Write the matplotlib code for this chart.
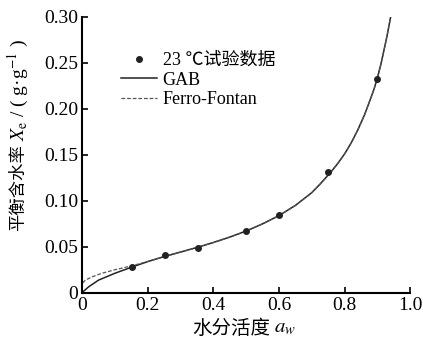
import matplotlib
matplotlib.use("Agg")
import matplotlib.pyplot as plt

plt.rcParams['font.family'] = ['Liberation Serif', 'Noto Sans CJK SC', 'DejaVu Sans']
plt.rcParams['mathtext.fontset'] = 'stix'

# measured points (23 C)
aw_exp = [0.153, 0.252, 0.352, 0.500, 0.600, 0.750, 0.899]
x_exp = [0.028, 0.041, 0.049, 0.0675, 0.084, 0.131, 0.233]

# GAB fit curve
aw_gab = [0.0, 0.02, 0.05, 0.10, 0.15, 0.20, 0.25, 0.30, 0.35, 0.40, 0.45,
          0.50, 0.55, 0.60, 0.65, 0.70, 0.725, 0.75, 0.76, 0.78, 0.80, 0.82,
          0.84, 0.86, 0.88, 0.89, 0.90, 0.91, 0.92, 0.93, 0.94, 0.95]
x_gab = [0.0, 0.0062, 0.0135, 0.021, 0.0275, 0.0337, 0.0392, 0.0441, 0.0491,
         0.0545, 0.0604, 0.0670, 0.0748, 0.0838, 0.0949, 0.1088, 0.1180, 0.1280,
         0.1320, 0.1410, 0.1510, 0.1630, 0.1770, 0.1930, 0.2120, 0.2220, 0.2340,
         0.2480, 0.2640, 0.2810, 0.3000, 0.3200]

# Ferro-Fontan fit curve
aw_ff = [0.002, 0.01, 0.03, 0.06, 0.10, 0.15, 0.20, 0.25, 0.30, 0.35, 0.40,
         0.45, 0.50, 0.55, 0.60, 0.65, 0.70, 0.725, 0.75, 0.76, 0.78, 0.80,
         0.82, 0.84, 0.86, 0.88, 0.89, 0.90, 0.91, 0.92, 0.93, 0.94, 0.95]
x_ff = [0.0105, 0.0135, 0.0170, 0.0210, 0.0248, 0.0290, 0.0338, 0.0390, 0.0440,
        0.0490, 0.0544, 0.0603, 0.0669, 0.0747, 0.0837, 0.0948, 0.1087, 0.1180,
        0.1280, 0.1320, 0.1410, 0.1510, 0.1630, 0.1770, 0.1930, 0.2120, 0.2220,
        0.2340, 0.2480, 0.2640, 0.2810, 0.3000, 0.3200]

fig = plt.figure(figsize=(4.23, 3.39), dpi=100)
ax = fig.add_axes([0.194, 0.137, 0.776, 0.813])

ax.plot(aw_exp, x_exp, 'o', color='#222222', markersize=4, label='23 ℃试验数据', zorder=3)
ax.plot(aw_gab, x_gab, '-', color='#222222', lw=1.1, label='GAB')
ax.plot(aw_ff, x_ff, color='#555555', lw=0.9, linestyle=(0, (3, 1.5)), label='Ferro-Fontan')

ax.set_xlim(0, 1.0)
ax.set_ylim(0, 0.30)
ax.set_xticks([0, 0.2, 0.4, 0.6, 0.8, 1.0])
ax.set_xticklabels(['0', '0.2', '0.4', '0.6', '0.8', '1.0'])
ax.set_yticks([0, 0.05, 0.10, 0.15, 0.20, 0.25, 0.30])
ax.set_yticklabels(['0', '0.05', '0.10', '0.15', '0.20', '0.25', '0.30'])
ax.tick_params(direction='in', length=4, width=1.2, labelsize=14, pad=3)
for s in ['top', 'right']:
    ax.spines[s].set_visible(False)
for s in ['left', 'bottom']:
    ax.spines[s].set_linewidth(1.5)

ax.legend(loc='upper left', bbox_to_anchor=(112 / 423, 1 - 43 / 339),
          bbox_transform=fig.transFigure, frameon=False, borderpad=0,
          handlelength=2.0, handletextpad=0.3, labelspacing=0.15,
          prop={'family': ['Liberation Serif', 'Noto Sans CJK SC'], 'size': 13})

# y label in two pieces (CJK + math)
fig.text(18 / 423, 1 - 231 / 339, '平衡含水率', rotation=90, ha='center', va='bottom',
         fontsize=12.5, family=['Noto Sans CJK SC'])
fig.text(18 / 423, 1 - 141 / 339, r'$X_\mathrm{e}$ / ( g·g$^{-1}$ )', rotation=90,
         ha='center', va='bottom', fontsize=14)

# x label
fig.text(192 / 423, 1 - 328 / 339, '水分活度', ha='left', va='center',
         fontsize=14, family=['Noto Sans CJK SC'])
fig.text(274 / 423, 1 - 328 / 339, r'$a_w$', ha='left', va='center', fontsize=15)

fig.savefig('out.png', dpi=100)
